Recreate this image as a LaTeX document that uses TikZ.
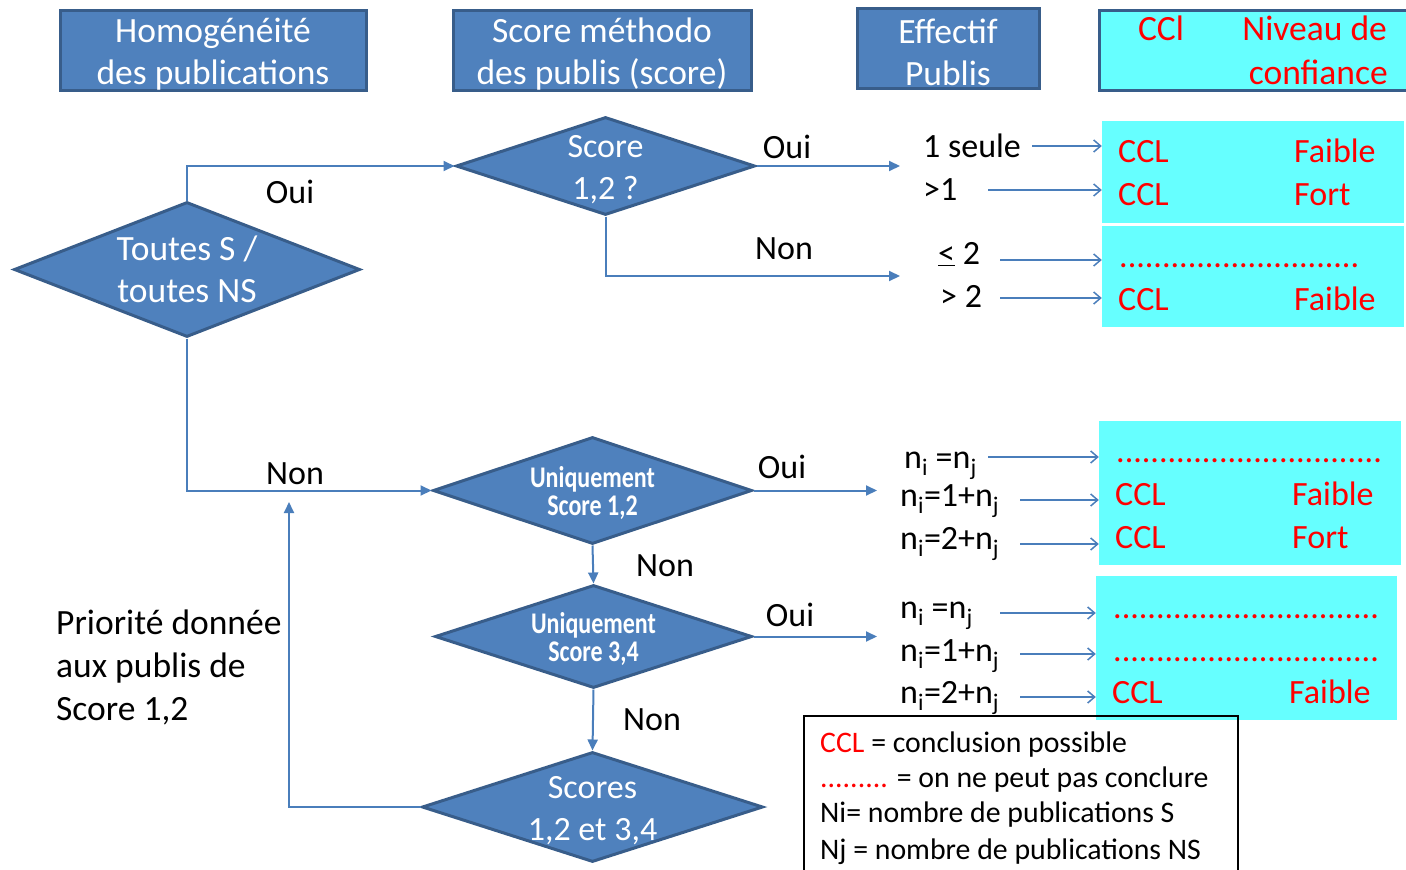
\documentclass[tikz,border=0pt]{standalone}
\usepackage{fontspec}
\setmainfont{Carlito}
\usetikzlibrary{shapes.geometric,arrows.meta}
\definecolor{bfill}{HTML}{4F81BD}
\definecolor{bedge}{HTML}{385D8A}
\definecolor{conn}{HTML}{4A7EBB}
\definecolor{cyanbg}{HTML}{66FFFF}
\definecolor{rd}{HTML}{FF0000}
\newcommand{\FBig}{\fontsize{34}{42}\selectfont}
\newcommand{\FHdr}{\fontsize{35.5}{42}\selectfont}
\newcommand{\FLeg}{\fontsize{29.8}{35}\selectfont}
\newcommand{\FBoldC}{\fontsize{30}{28}\selectfont\bfseries}
\newcommand{\XS}[1]{\scalebox{0.8}[1]{#1}}
\begin{document}
\begin{tikzpicture}[x=1pt,y=-1pt,
  hdr/.style={draw=bedge,line width=3pt,fill=bfill,text=white,align=center,inner sep=0pt,font=\FHdr},
  resbox/.style={fill=cyanbg,inner sep=0pt},
  dia/.style={diamond,draw=bedge,line width=3pt,fill=bfill,inner sep=0pt},
  dtxt/.style={text=white,align=center,inner sep=0pt,font=\FBig,yshift=-4pt},
  dtxtb/.style={text=white,align=center,inner sep=0pt,font=\FBoldC,yshift=-2pt},
  lbl/.style={inner sep=0pt,text height=22pt,text depth=0pt,font=\FBig},
  rtxt/.style={lbl,text=rd,anchor=west},
  dotrow/.style={inner sep=0pt,font=\FBig,text=rd,anchor=base west},
  flowarr/.style={draw=conn,line width=2pt,-{Triangle[length=11pt,width=10pt]}},
  smarr/.style={draw=conn,line width=1.5pt,-{Straight Barb[length=7pt,width=12pt]}},
  legtxt/.style={inner sep=0pt,text height=19pt,text depth=0pt,font=\FLeg,anchor=west}
]
\useasboundingbox (0,0) rectangle (1406,870);

% headers
\node[hdr,minimum width=306pt,minimum height=80pt] (h1) at (213,50) {};
\node[text=white,align=center,inner sep=0pt,font=\FHdr] (h1t) at (213,54) {Homogénéité\\des publications};
\node[hdr,minimum width=298pt,minimum height=80pt] (h2) at (602,50) {};
\node[text=white,align=center,inner sep=0pt,font=\FHdr] (h2t) at (602,54) {Score méthodo\\des publis (score)};
\node[hdr,minimum width=182pt,minimum height=80pt] (h3) at (948,48) {};
\node[text=white,align=center,inner sep=0pt,font=\FHdr] (h3t) at (948,52) {Effectif\\Publis};
\node[draw=bedge,line width=3pt,fill=cyanbg,minimum width=312pt,minimum height=80pt,inner sep=0pt] (h4) at (1255,50) {};
\node[lbl,text=rd,font=\FHdr] (h4a) at (1161,29) {CCl};
\node[lbl,text=rd,anchor=east,font=\FHdr] (h4b) at (1387,29) {Niveau de};
\node[lbl,text=rd,anchor=east,font=\FHdr] (h4c) at (1388,73) {confiance};

% diamonds
\node[dia,minimum width=346pt,minimum height=135pt] (d1) at (187,269.5) {};
\node[dtxt,font=\FHdr,yshift=4pt] (d1t) at (d1) {Toutes S /\\toutes NS};
\node[dia,minimum width=299pt,minimum height=98pt] (d2) at (605.5,166) {};
\node[dtxt] (d2t) at (d2) {Score\\1,2 ?};
\node[dia,minimum width=319pt,minimum height=107pt] (d3) at (592.5,490.5) {};
\node[dtxtb] (d3t) at (d3) {\XS{Uniquement}\\\XS{Score 1,2}};
\node[dia,minimum width=317pt,minimum height=103pt] (d4) at (593.5,636.5) {};
\node[dtxtb] (d4t) at (d4) {\XS{Uniquement}\\\XS{Score 3,4}};
\node[dia,minimum width=341pt,minimum height=110pt] (d5) at (592.5,807) {};
\node[dtxt] (d5t) at (d5) {Scores\\1,2 et 3,4};

% result boxes
\node[resbox,minimum width=302pt,minimum height=102pt] (r1) at (1253,172) {};
\node[resbox,minimum width=302pt,minimum height=101pt] (r2) at (1253,276) {};
\node[resbox,minimum width=302pt,minimum height=144pt] (r3) at (1250,493) {};
\node[resbox,minimum width=301pt,minimum height=144pt] (r4) at (1246.5,648) {};

\node[rtxt] (r1a) at (1118,151) {CCL};
\node[rtxt] (r1b) at (1294,151) {Faible};
\node[rtxt] (r1c) at (1118,194) {CCL};
\node[rtxt] (r1d) at (1294,194) {Fort};
\node[dotrow] (r2a) at (1119,267) {............................};
\node[rtxt] (r2b) at (1118,299) {CCL};
\node[rtxt] (r2c) at (1294,299) {Faible};
\node[dotrow] (r3a) at (1116,462) {...............................};
\node[rtxt] (r3b) at (1115,494) {CCL};
\node[rtxt] (r3c) at (1292,494) {Faible};
\node[rtxt] (r3d) at (1115,537) {CCL};
\node[rtxt] (r3e) at (1292,537) {Fort};
\node[dotrow] (r4a) at (1113,618) {...............................};
\node[dotrow] (r4b) at (1113,661) {...............................};
\node[rtxt] (r4c) at (1112,692) {CCL};
\node[rtxt] (r4d) at (1289,692) {Faible};

% left labels of results
\node[lbl,anchor=west] (e1) at (923,146) {1 seule};
\node[lbl,anchor=west] (e2) at (923,189) {>1};
\node[lbl,anchor=west] (e3) at (938,253) {\underline{<} 2};
\node[lbl,anchor=west] (e4) at (940,296) {> 2};
\node[lbl,anchor=west] (f1) at (904,457) {n\textsubscript{i} =n\textsubscript{j}};
\node[lbl,anchor=west] (f2) at (900,495) {n\textsubscript{i}=1+n\textsubscript{j}};
\node[lbl,anchor=west] (f3) at (900,538) {n\textsubscript{i}=2+n\textsubscript{j}};
\node[lbl,anchor=west] (g1) at (900,607) {n\textsubscript{i} =n\textsubscript{j}};
\node[lbl,anchor=west] (g2) at (900,650) {n\textsubscript{i}=1+n\textsubscript{j}};
\node[lbl,anchor=west] (g3) at (900,692) {n\textsubscript{i}=2+n\textsubscript{j}};

% small arrows
\coordinate (a1) at (1032,146);
\coordinate (a2) at (988,190);
\coordinate (a3) at (1000,260);
\coordinate (a4) at (1000,298);
\coordinate (a5) at (988,457);
\coordinate (a6) at (1020,500);
\coordinate (a7) at (1020,544);
\coordinate (a8) at (1000,613);
\coordinate (a9) at (1020,654);
\coordinate (a10) at (1020,697);
\draw[smarr] (a1) -- (a1 -| r1.west);
\draw[smarr] (a2) -- (a2 -| r1.west);
\draw[smarr] (a3) -- (a3 -| r2.west);
\draw[smarr] (a4) -- (a4 -| r2.west);
\draw[smarr] (a5) -- (a5 -| r3.west);
\draw[smarr] (a6) -- (a6 -| r3.west);
\draw[smarr] (a7) -- (a7 -| r3.west);
\draw[smarr] (a8) -- (a8 -| r4.west);
\draw[smarr] (a9) -- (a9 -| r4.west);
\draw[smarr] (a10) -- (a10 -| r4.west);

% flow connectors
\coordinate (c1) at (900,0);
\coordinate (c2) at (900,276);
\coordinate (c3) at (877,0);
\coordinate (c4) at (289,502);
\draw[flowarr] (d1.north) |- (d2.west);
\draw[flowarr] (d2.east) -- (d2.east -| c1);
\draw[flowarr] (d2.south) |- (c2);
\draw[flowarr] (d1.south) |- (d3.west);
\draw[flowarr] (d3.east) -- (d3.east -| c3);
\draw[flowarr] (d3.south) -- (d4.north);
\draw[flowarr] (d4.east) -- (d4.east -| c3);
\draw[flowarr] (d4.south) -- (d5.north);
\draw[flowarr] (d5.west) -| (c4);

% Oui / Non labels
\node[lbl] (o1) at (290,192) {Oui};
\node[lbl] (o2) at (787,147) {Oui};
\node[lbl] (n1) at (784,248) {Non};
\node[lbl] (n2) at (295,473) {Non};
\node[lbl] (o3) at (782,467) {Oui};
\node[lbl] (n3) at (665,565) {Non};
\node[lbl] (o4) at (790,615) {Oui};
\node[lbl] (n4) at (652,719) {Non};

% priority note
\node[align=left,anchor=west,inner sep=0pt,font=\fontsize{35.5}{43}\selectfont] (prio) at (56,667) {Priorité donnée\\aux publis de\\Score 1,2};

% legend
\node[draw=black,line width=1.2pt,minimum width=434pt,minimum height=162pt,inner sep=0pt] (leg) at (1021,797) {};
\node[legtxt] (l1) at (820,743) {\textcolor{rd}{CCL} = conclusion possible};
\node[legtxt] (l2) at (820,778) {\textcolor{rd}{.........} = on ne peut pas conclure};
\node[legtxt] (l3) at (820,813) {Ni= nombre de publications S};
\node[legtxt] (l4) at (820,850) {Nj = nombre de publications NS};
\end{tikzpicture}
\end{document}
